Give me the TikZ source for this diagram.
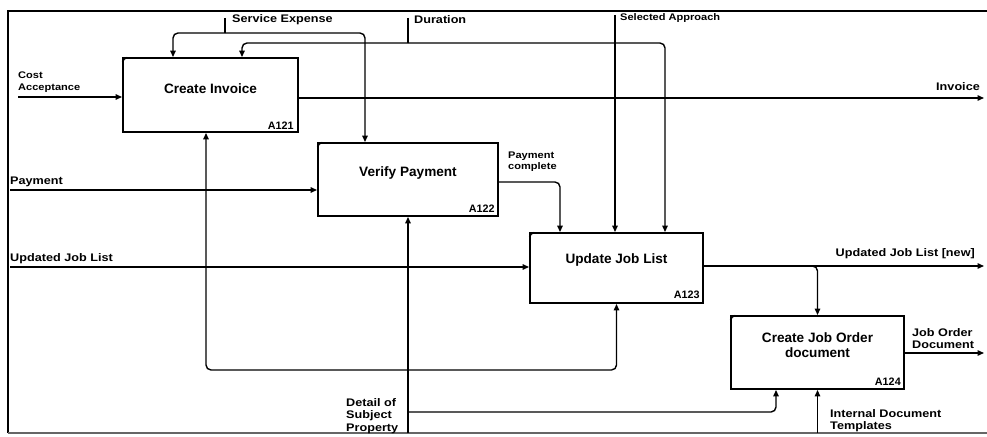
\documentclass[tikz,border=0pt]{standalone}
\usepackage{fontspec}
\setmainfont{Liberation Sans}
\newfontfamily\widesans{Liberation Sans}[FakeStretch=1.15]
\usetikzlibrary{arrows.meta,calc}
\begin{document}
\begin{tikzpicture}[x=1pt,y=-1pt,
  abox/.style n args={2}{draw,line width=1.9pt,minimum width=#1,minimum height=#2,inner sep=0pt},
  title/.style={font=\bfseries\fontsize{13.6}{15}\selectfont,align=center,inner sep=0pt},
  code/.style={font=\bfseries\fontsize{10.8}{12}\selectfont,inner sep=0pt},
  lbl/.style={font=\widesans\bfseries\fontsize{11}{12}\selectfont,align=left,inner sep=0pt},
  slbl/.style={font=\widesans\bfseries\fontsize{9.6}{11}\selectfont,align=left,inner sep=0pt},
  conn/.style={line width=1.4pt,rounded corners=5pt},
  arr/.style={conn,-{Triangle[length=6.5pt,width=5.5pt]}},
]
\useasboundingbox (0,0) rectangle (987,436);
% frame
\draw[line width=1.4pt] (987,11) -- (8,11) -- (8,433);
\draw[line width=1.6pt,black!60] (8,433) -- (987,433);

% boxes
\node[abox={175pt}{74pt}] (A121) at (210.5,95) {};
\node[abox={180pt}{73pt}] (A122) at (408,179.5) {};
\node[abox={173pt}{70pt}] (A123) at (616.5,268) {};
\node[abox={173pt}{73pt}] (A124) at (817.5,352.5) {};
\foreach \b in {A121,A122,A123,A124}{
  \draw[line width=0.8pt] ($(\b.north west)+(0,5)$) -- ($(\b.north west)+(5,0)$);
}
\node[title] (A121t) at (210.5,89) {Create Invoice};
\node[title] (A122t) at (408,173) {Verify Payment};
\node[title] (A123t) at (616.5,260) {Update Job List};
\node[title] (A124t) at (817.5,345) {Create Job Order\\document};
\node[code,anchor=south east] (A121c) at ($(A121.south east)+(-5,-3)$) {A121};
\node[code,anchor=south east] (A122c) at ($(A122.south east)+(-4,-4)$) {A122};
\node[code,anchor=south east] (A123c) at ($(A123.south east)+(-4,-5)$) {A123};
\node[code,anchor=south east] (A124c) at ($(A124.south east)+(-4,-4)$) {A124};

% helper coordinates
\coordinate (x173) at (173,0);
\coordinate (x242) at (242,0);
\coordinate (x365) at (365,0);
\coordinate (x665) at (665,0);
\coordinate (x560) at (560,0);
\coordinate (x206) at (206,0);
\coordinate (x776) at (776,0);

% Cost Acceptance
\coordinate (ca) at (18,97);
\draw[arr] (ca) -- (A121.west |- ca);
\node[slbl,anchor=south west,font=\widesans\bfseries\fontsize{9.6}{12}\selectfont] (calbl) at (18,93) {Cost\\Acceptance};

% Service Expense
\coordinate (se) at (225,18);
\coordinate (sej) at (225,33);
\draw[conn] (se) -- (sej);
\draw[arr] (sej) -| (A121.north -| x173);
\draw[arr] (sej) -| (A122.north -| x365);
\node[lbl,anchor=west] (selbl) at (232,20) {Service Expense};

% Duration
\coordinate (du) at (408,18);
\coordinate (duj) at (408,43);
\draw[conn] (du) -- (duj);
\draw[arr] (duj) -| (A121.north -| x242);
\draw[arr] (duj) -| (A123.north -| x665);
\node[lbl,anchor=west] (dulbl) at (414,20) {Duration};

% Selected Approach
\coordinate (sa) at (615,15);
\draw[arr] (sa) -- (A123.north -| sa);
\node[slbl,anchor=west] (salbl) at (620,18) {Selected Approach};

% Invoice
\coordinate (iv) at (984,98);
\draw[arr] (A121.east |- iv) -- (iv);
\node[lbl,anchor=south east] (ivlbl) at (980,91) {Invoice};

% Payment
\coordinate (py) at (10,190);
\draw[arr] (py) -- (A122.west |- py);
\node[lbl,anchor=south west] (pylbl) at (10,187) {Payment};

% Updated Job List
\coordinate (uj) at (10,267);
\draw[arr] (uj) -- (A123.west |- uj);
\node[lbl,anchor=south west] (ujlbl) at (10,264) {Updated Job List};

% Payment complete
\coordinate (pc) at (0,182);
\draw[arr] (A122.east |- pc) -| (A123.north -| x560);
\node[slbl,anchor=north west] (pclbl) at (508,152) {Payment\\complete};

% Updated Job List [new]
\coordinate (ujn) at (984,266);
\draw[arr] (A123.east |- ujn) -- (ujn);
\draw[arr] (A123.east |- ujn) -| (A124.north);
\node[lbl,anchor=south east] (ujnlbl) at (975,259) {Updated Job List [new]};

% Job Order Document
\coordinate (jo) at (984,353);
\draw[arr] (A124.east |- jo) -- (jo);
\node[lbl,anchor=south west] (jolbl) at (912,349) {Job Order\\Document};

% Internal Document Templates
\coordinate (idt) at (817.5,433);
\draw[arr] (idt) -- (A124.south);
\node[lbl,anchor=north west] (idtlbl) at (830,409) {Internal Document\\Templates};

% Detail of Subject Property
\coordinate (dsp) at (408,433);
\coordinate (dj1) at (408,370);
\coordinate (dj2) at (408,412);
\draw[arr] (dsp) -- (A122.south);
\draw[arr] (dj1) -| (A121.south -| x206);
\draw[arr] (dj1) -| (A123.south);
\draw[arr] (dj2) -| (A124.south -| x776);
\node[lbl,anchor=north west,font=\widesans\bfseries\fontsize{11}{12.5}\selectfont] (dsplbl) at (346,398) {Detail of\\Subject\\Property};
\end{tikzpicture}
\end{document}
